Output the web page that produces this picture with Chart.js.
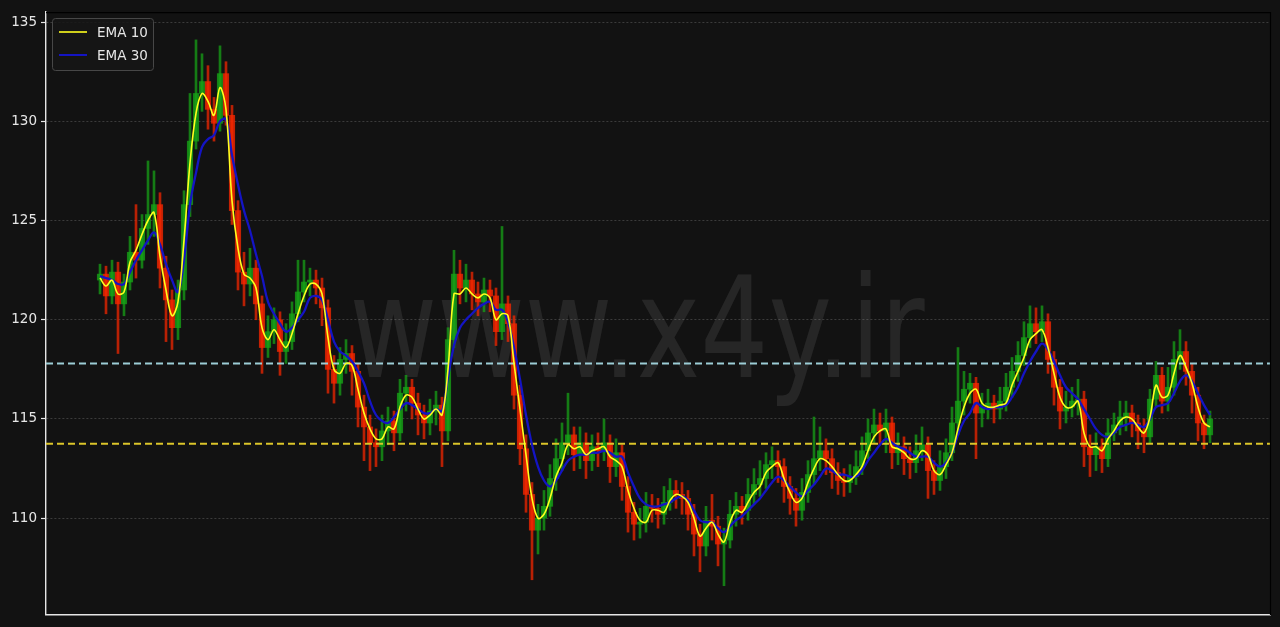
<!DOCTYPE html>
<html>
<head>
<meta charset="utf-8">
<script src="https://cdn.jsdelivr.net/npm/chart.js@4/dist/chart.umd.min.js"></script>
<style>
    html, body { margin: 0; padding: 0; background: #121212; }
    #wrap { width: 1280px; height: 627px; }
</style>
</head>
<body>
<div id="wrap"><canvas id="priceChart" width="1280" height="627"></canvas></div>
<script>
// 캔들 데이터 (봉 하나당 한 값)
const opens = [
    122.0,122.3,121.2,122.4,120.8,121.9,123.4,123.0,124.6,125.3,
    125.8,122.6,121.0,119.6,121.5,125.8,129.0,131.4,132.0,130.6,
    129.9,132.4,130.3,125.5,122.4,121.8,122.6,120.8,118.6,119.4,
    120.0,118.4,118.9,120.3,121.4,121.9,122.0,121.6,120.6,117.5,
    116.8,118.0,118.3,117.4,115.6,114.6,113.8,113.6,114.4,114.9,
    114.3,116.3,116.6,115.8,115.2,114.8,115.4,115.7,114.4,119.0,
    122.3,121.6,122.0,121.3,120.9,121.5,121.2,119.4,120.8,119.8,
    116.2,113.5,111.2,109.4,110.0,110.6,112.0,113.0,113.8,114.2,
    113.2,113.8,112.9,113.6,113.4,113.8,112.6,113.3,111.6,110.3,
    109.7,109.8,110.6,110.5,110.2,110.8,111.4,111.2,111.0,110.2,
    109.2,108.6,109.9,109.6,108.7,108.9,110.2,110.6,110.4,111.2,
    111.7,112.0,112.7,112.9,112.6,111.6,111.0,110.4,111.3,112.2,
    113.0,113.4,113.0,112.3,111.9,111.8,112.1,112.6,113.4,114.3,
    114.7,114.4,114.8,113.3,113.6,113.0,112.8,113.4,113.7,112.4,
    111.9,112.6,113.3,114.8,115.9,116.5,116.8,115.3,115.6,115.8,
    115.5,115.9,116.6,117.4,118.2,119.1,119.8,119.4,119.9,118.0,
    116.6,115.4,115.6,115.9,116.0,113.6,113.2,113.6,113.0,114.3,
    114.7,115.1,115.3,114.8,114.4,114.1,116.0,117.2,115.9,116.6,
    118.0,118.4,117.4,116.2,114.8,114.2
];
const closes = [
    122.3,121.2,122.4,120.8,121.9,123.4,123.0,124.6,125.3,125.8,
    122.6,121.0,119.6,121.5,125.8,129.0,131.4,132.0,130.6,129.9,
    132.4,130.3,125.5,122.4,121.8,122.6,120.8,118.6,119.4,120.0,
    118.4,118.9,120.3,121.4,121.9,122.0,121.6,120.6,117.5,116.8,
    118.0,118.3,117.4,115.6,114.6,113.8,113.6,114.4,114.9,114.3,
    116.3,116.6,115.8,115.2,114.8,115.4,115.7,114.4,119.0,122.3,
    121.6,122.0,121.3,120.9,121.5,121.2,119.4,120.8,119.8,116.2,
    113.5,111.2,109.4,110.0,110.6,112.0,113.0,113.8,114.2,113.2,
    113.8,112.9,113.6,113.4,113.8,112.6,113.3,111.6,110.3,109.7,
    109.8,110.6,110.5,110.2,110.8,111.4,111.2,111.0,110.2,109.2,
    108.6,109.9,109.6,108.7,108.9,110.2,110.6,110.4,111.2,111.7,
    112.0,112.7,112.9,112.6,111.6,111.0,110.4,111.3,112.2,113.0,
    113.4,113.0,112.3,111.9,111.8,112.1,112.6,113.4,114.3,114.7,
    114.4,114.8,113.3,113.6,113.0,112.8,113.4,113.7,112.4,111.9,
    112.6,113.3,114.8,115.9,116.5,116.8,115.3,115.6,115.8,115.5,
    115.9,116.6,117.4,118.2,119.1,119.8,119.4,119.9,118.0,116.6,
    115.4,115.6,115.9,116.0,113.6,113.2,113.6,113.0,114.3,114.7,
    115.1,115.3,114.8,114.4,114.1,116.0,117.2,115.9,116.6,118.0,
    118.4,117.4,116.2,114.8,114.2,115.0
];
const highs = [
    122.8,122.7,123.0,122.9,122.3,124.2,125.8,125.3,128.0,127.5,
    126.4,123.2,121.5,122.0,126.5,131.4,134.1,133.4,132.8,131.2,
    133.8,133.0,130.8,126.0,123.4,123.6,123.0,121.2,120.2,120.6,
    120.4,119.8,120.9,123.0,123.0,122.6,122.5,122.1,121.0,118.2,
    118.6,119.0,118.7,117.8,116.2,115.2,114.5,115.2,115.6,115.4,
    117.0,117.2,117.0,116.3,115.7,116.0,116.4,116.1,119.6,123.5,
    123.0,122.8,122.4,121.9,122.1,122.0,121.6,124.7,121.2,120.2,
    116.7,114.2,111.8,110.7,111.4,112.7,114.0,114.8,116.3,114.6,
    114.6,114.3,114.2,114.3,115.0,114.2,114.0,113.7,112.1,110.8,
    110.5,111.3,111.2,111.0,111.6,112.0,111.9,111.8,111.4,110.7,
    109.7,110.6,111.2,110.1,109.5,110.9,111.3,111.1,112.0,112.5,
    112.9,113.3,113.6,113.4,113.0,112.1,111.5,112.0,112.9,115.1,
    114.6,114.0,113.5,112.8,112.5,112.7,113.4,114.1,115.0,115.5,
    115.3,115.5,115.1,114.3,114.1,113.6,114.2,114.6,114.1,112.9,
    113.4,114.0,115.6,118.6,117.4,117.3,117.1,116.3,116.5,116.2,
    116.6,117.3,118.1,118.9,119.9,120.7,120.6,120.7,120.3,118.4,
    117.0,116.4,116.6,117.0,116.4,114.2,114.3,114.0,115.0,115.3,
    115.9,115.9,115.7,115.2,115.0,116.5,117.9,117.6,117.6,118.9,
    119.5,118.9,117.8,116.6,115.2,115.4
];
const lows = [
    121.3,120.3,120.8,118.3,120.2,121.5,122.1,122.6,123.8,124.2,
    121.6,118.9,118.5,119.0,121.0,125.2,128.6,130.5,129.6,129.0,
    129.5,129.8,124.8,121.5,120.7,121.2,120.0,117.3,118.1,118.8,
    117.2,117.8,118.5,119.9,120.9,121.2,120.8,119.7,116.3,115.8,
    116.2,117.3,116.2,114.6,112.9,112.4,112.6,112.9,113.7,113.4,
    113.9,115.4,115.0,114.2,114.0,114.2,114.7,112.6,113.9,118.6,
    120.8,120.9,120.5,120.2,120.4,120.4,118.7,119.0,118.9,115.5,
    112.7,110.3,106.9,108.2,109.4,110.1,111.4,112.4,113.2,112.4,
    112.5,112.0,112.4,112.6,112.9,111.8,112.1,110.9,109.3,108.9,
    109.0,109.3,109.8,109.5,109.7,110.4,110.5,110.2,109.4,108.1,
    107.3,108.1,108.9,107.6,106.6,108.5,109.6,109.7,109.9,110.7,
    111.1,111.5,112.0,111.8,110.8,110.2,109.6,109.9,110.8,111.7,
    112.4,112.2,111.5,111.2,111.1,111.3,111.7,112.2,113.0,113.8,
    113.7,113.3,112.5,112.7,112.2,112.0,112.3,112.9,111.0,111.2,
    111.4,112.0,112.9,114.2,115.2,115.8,113.0,114.6,115.0,114.8,
    115.0,115.4,116.1,116.9,117.7,118.6,118.8,118.9,117.3,115.7,
    114.5,114.8,115.1,115.2,112.6,112.1,112.4,112.3,112.6,113.9,
    114.2,114.4,114.1,113.5,113.3,113.8,115.6,115.3,115.4,116.2,
    117.5,116.7,115.3,113.9,113.5,113.8
];

// 이동평균선
const ema10 = [
    122.1,121.7,122.0,121.3,121.4,122.9,123.5,124.3,125.0,125.4,
    123.2,121.5,120.2,120.9,124.0,127.9,130.4,131.4,131.0,130.3,
    131.7,130.6,126.0,123.6,122.3,122.1,121.6,119.6,119.0,119.5,
    119.0,118.6,119.3,120.3,121.2,121.8,121.8,121.3,119.1,117.5,
    117.3,117.8,117.7,116.5,115.3,114.5,114.0,114.0,114.6,114.5,
    115.6,116.2,116.1,115.5,115.0,115.2,115.5,115.2,117.5,121.3,
    121.3,121.6,121.3,121.1,121.3,121.1,120.0,120.3,120.2,117.8,
    115.5,113.2,111.0,110.0,110.2,111.0,112.1,112.8,113.7,113.5,
    113.6,113.2,113.4,113.5,113.6,113.1,112.9,112.6,111.4,110.5,
    109.9,109.8,110.4,110.4,110.3,110.9,111.2,111.1,110.8,110.0,
    109.1,109.5,109.8,109.2,108.8,109.8,110.4,110.3,110.8,111.3,
    111.6,112.3,112.6,112.8,112.0,111.3,110.8,111.0,111.8,112.5,
    113.0,112.9,112.6,112.2,111.9,111.9,112.2,112.6,113.4,114.1,
    114.4,114.5,113.6,113.5,113.3,113.0,113.0,113.4,113.2,112.4,
    112.2,112.7,113.3,114.5,115.6,116.3,116.5,115.8,115.6,115.6,
    115.7,115.8,116.7,117.4,118.1,119.0,119.3,119.5,118.6,117.3,
    116.1,115.6,115.6,115.9,114.3,113.6,113.6,113.4,114.0,114.4,
    114.9,115.1,115.0,114.6,114.3,115.1,116.7,116.1,116.2,117.3,
    118.2,117.6,116.8,115.6,114.8,114.6
];
const ema30 = [
    122.2,122.1,122.0,121.8,121.8,122.4,123.0,123.5,124.0,124.4,
    123.8,122.8,122.0,121.4,123.0,125.8,127.4,128.7,129.1,129.3,
    130.0,130.1,128.3,126.8,125.5,124.5,123.3,122.2,120.9,120.3,
    119.8,119.4,119.6,120.0,120.4,121.1,121.2,121.0,120.0,118.9,
    118.4,118.2,117.9,117.4,116.8,115.9,115.2,114.9,114.8,115.1,
    115.5,115.8,115.7,115.5,115.3,115.3,115.5,115.4,117.1,118.7,
    119.6,120.0,120.3,120.6,120.8,120.9,120.5,120.5,119.9,118.6,
    117.0,115.2,113.7,112.6,111.9,111.6,111.9,112.4,112.9,113.1,
    113.2,113.2,113.3,113.3,113.4,113.3,113.1,113.1,112.3,111.6,
    111.0,110.7,110.6,110.6,110.7,110.8,111.0,111.1,110.9,110.4,
    109.9,109.8,109.8,109.5,109.3,109.6,109.9,110.1,110.4,110.7,
    111.0,111.4,111.8,112.1,111.9,111.6,111.3,111.1,111.4,111.7,
    112.1,112.5,112.4,112.2,112.2,112.1,112.1,112.4,112.9,113.3,
    113.7,114.0,113.8,113.6,113.5,113.3,113.1,113.1,113.1,112.8,
    112.6,112.8,113.3,114.2,114.9,115.3,115.8,115.6,115.5,115.6,
    115.6,115.7,116.1,116.6,117.3,117.9,118.4,118.8,118.5,117.9,
    117.2,116.6,116.3,116.0,115.5,115.0,114.5,114.2,114.1,114.3,
    114.6,114.7,114.8,114.7,114.6,115.0,115.6,115.7,115.8,116.3,
    116.9,117.2,116.9,116.3,115.7,115.2
];

// 수평 기준선 / 축 눈금 / 텍스트
const levelUpper = 117.8;
const levelLower = 113.75;
const yTicks = [110, 115, 120, 125, 130, 135];
const legendLabels = ['EMA 10', 'EMA 30'];
const watermarkText = 'www.x4y.ir';

const COLORS = {
    UP: '#17a317',
    DOWN: '#f62600',
    EMA10: '#ffff1e',
    EMA30: '#1414c4',
    LEVEL_UPPER: '#9ccdd6',
    LEVEL_LOWER: '#dcc52a',
    BG: '#121212',
    TEXT: '#e6e6e6'
};

const X_MIN = -9;
const X_MAX = 195;
const FONT = '"DejaVu Sans", sans-serif';

/**
 * 배경, 워터마크, 축 테두리, 범례 그리기
 */
const decorPlugin = {
    id: 'decor',
    beforeDraw(chart) {
        const ctx = chart.ctx;
        ctx.save();
        ctx.fillStyle = COLORS.BG;
        ctx.fillRect(0, 0, chart.width, chart.height);
        ctx.restore();
    },
    beforeDatasetsDraw(chart) {
        const ctx = chart.ctx;
        ctx.save();
        ctx.font = '140px ' + FONT;
        const w = ctx.measureText(watermarkText).width;
        const sx = 575 / w;
        ctx.translate(637, 377);
        ctx.scale(sx, 1);
        ctx.fillStyle = 'rgba(255,255,255,0.085)';
        ctx.textAlign = 'center';
        ctx.textBaseline = 'alphabetic';
        ctx.fillText(watermarkText, 0, 0);
        ctx.restore();
    },
    afterDraw(chart) {
        const ctx = chart.ctx;
        const a = chart.chartArea;
        ctx.save();
        // 위/오른쪽 테두리 (검정)
        ctx.strokeStyle = '#000000';
        ctx.lineWidth = 1.2;
        ctx.beginPath();
        ctx.moveTo(a.left, a.top + 0.5);
        ctx.lineTo(a.right + 0.5, a.top + 0.5);
        ctx.lineTo(a.right + 0.5, a.bottom);
        ctx.stroke();

        // 범례 상자
        const bx = 52.5, by = 18.5, bw = 101, bh = 52;
        ctx.fillStyle = 'rgba(22,22,22,0.85)';
        ctx.strokeStyle = '#474747';
        ctx.lineWidth = 1;
        ctx.beginPath();
        ctx.roundRect(bx, by, bw, bh, 3);
        ctx.fill();
        ctx.stroke();

        const rows = [
            { label: legendLabels[0], color: COLORS.EMA10, y: 32, width: 1.6 },
            { label: legendLabels[1], color: COLORS.EMA30, y: 55, width: 2 }
        ];
        ctx.font = '13.5px ' + FONT;
        ctx.textBaseline = 'middle';
        ctx.textAlign = 'left';
        rows.forEach(r => {
            ctx.strokeStyle = r.color;
            ctx.lineWidth = r.width;
            ctx.beginPath();
            ctx.moveTo(59, r.y);
            ctx.lineTo(87, r.y);
            ctx.stroke();
            ctx.fillStyle = COLORS.TEXT;
            ctx.fillText(r.label, 97, r.y + 1);
        });
        ctx.restore();
    }
};

/**
 * 캔들 + EMA 차트 생성
 * @param {string} canvasId - 캔버스 ID
 */
function createCandleChart(canvasId) {
    const ctx = document.getElementById(canvasId).getContext('2d');

    const candleColors = closes.map((c, i) => c >= opens[i] ? COLORS.UP : COLORS.DOWN);
    const wickData = highs.map((h, i) => ({ x: i, y: [lows[i], h] }));
    const bodyData = opens.map((o, i) => ({ x: i, y: [o, closes[i]] }));
    const ema10Data = ema10.map((v, i) => ({ x: i, y: v }));
    const ema30Data = ema30.map((v, i) => ({ x: i, y: v }));

    const chart = new Chart(ctx, {
        type: 'bar',
        data: {
            datasets: [
                {
                    type: 'line',
                    label: legendLabels[0],
                    data: ema10Data,
                    borderColor: COLORS.EMA10,
                    borderWidth: 1.6,
                    pointRadius: 0,
                    tension: 0.35,
                    order: 0
                },
                {
                    type: 'line',
                    label: legendLabels[1],
                    data: ema30Data,
                    borderColor: COLORS.EMA30,
                    borderWidth: 2.3,
                    pointRadius: 0,
                    tension: 0.4,
                    order: 1
                },
                {
                    type: 'line',
                    data: [{ x: X_MIN, y: levelUpper }, { x: X_MAX, y: levelUpper }],
                    borderColor: COLORS.LEVEL_UPPER,
                    borderWidth: 2,
                    borderDash: [7, 4],
                    pointRadius: 0,
                    order: 2
                },
                {
                    type: 'line',
                    data: [{ x: X_MIN, y: levelLower }, { x: X_MAX, y: levelLower }],
                    borderColor: COLORS.LEVEL_LOWER,
                    borderWidth: 2,
                    borderDash: [7, 4],
                    pointRadius: 0,
                    order: 2
                },
                {
                    data: bodyData,
                    backgroundColor: candleColors.map(c => c + 'c8'),
                    borderWidth: 0,
                    barThickness: 5.5,
                    grouped: false,
                    order: 3
                },
                {
                    data: wickData,
                    backgroundColor: candleColors.map(c => c + 'bb'),
                    borderWidth: 0,
                    barThickness: 2,
                    grouped: false,
                    order: 4
                }
            ]
        },
        options: {
            responsive: false,
            animation: false,
            layout: {
                padding: { top: 12, right: 10, left: 0, bottom: 0 }
            },
            plugins: {
                legend: { display: false },
                tooltip: { enabled: false }
            },
            scales: {
                x: {
                    type: 'linear',
                    min: X_MIN,
                    max: X_MAX,
                    offset: false,
                    ticks: { display: false },
                    grid: { display: false, drawTicks: false },
                    border: { display: true, color: '#e6e6e6', width: 1.4 },
                    afterFit: s => { s.height = 12; }
                },
                y: {
                    position: 'left',
                    min: 105.13,
                    max: 135.5,
                    afterBuildTicks: s => { s.ticks = yTicks.map(v => ({ value: v })); },
                    afterFit: s => { s.width = 46; },
                    ticks: {
                        color: COLORS.TEXT,
                        padding: 4,
                        font: { family: FONT, size: 13.5 }
                    },
                    grid: {
                        color: '#474747',
                        lineWidth: 0.8,
                        tickColor: '#e6e6e6',
                        tickLength: 5,
                        tickWidth: 1.2
                    },
                    border: { display: true, color: '#e6e6e6', width: 1.4, dash: [2, 2] }
                }
            }
        },
        plugins: [decorPlugin]
    });

    return chart;
}

createCandleChart('priceChart');
</script>
</body>
</html>
